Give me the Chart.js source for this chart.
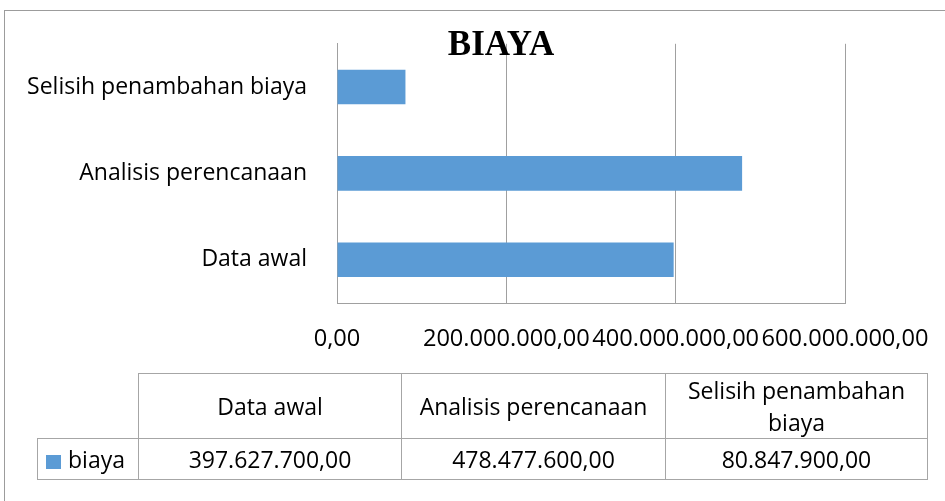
<!DOCTYPE html>
<html>
<head>
<meta charset="utf-8">
<script src="https://cdn.jsdelivr.net/npm/chart.js@4.4.0/dist/chart.umd.min.js"></script>
<style>
  body { margin: 0; background: #fff; overflow: hidden; }
  #wadah { position: relative; width: 945px; height: 501px; }
  #bingkai { position: absolute; left: 4px; top: 10px; width: 1000px; height: 600px; border: 1px solid #9c9c9c; pointer-events: none; }
  #tabel {
    position: absolute; left: 37px; top: 373px;
    border-collapse: collapse; table-layout: fixed;
    font-family: "Open Sans", sans-serif; font-size: 23px; color: #000;
  }
  #tabel td { border: 1px solid #a6a6a6; text-align: center; padding: 0 4px; line-height: 32px; }
  #tabel td.kosong { border-top: none; border-left: none; }
  #tabel tr.kepala td { height: 64px; }
  #tabel tr.isi td { height: 40px; }
  #tabel td.legenda { text-align: left; padding-left: 8px; }
  .kotak { display: inline-block; width: 15px; height: 14px; background: #5b9bd5; margin-right: 7px; vertical-align: -1px; }
</style>
</head>
<body>
<div id="wadah">
  <div id="bingkai"></div>
  <canvas id="grafica"></canvas>
  <table id="tabel"></table>
</div>
<script>
// datos del grafico
const judul = "BIAYA"
const namaSeri = "biaya"
const kategori = ["Data awal", "Analisis perencanaan", "Selisih penambahan biaya"]
const nilaiBiaya = [397627700, 478477600, 80847900]
const labelSumbuX = ["0,00", "200.000.000,00", "400.000.000,00", "600.000.000,00"]

const warnaBatang = "#5b9bd5"
const warnaGaris = "#a0a0a0"

// formato 397.627.700,00
function formatAngka(n) {
  const partes = n.toFixed(2).split(".")
  return partes[0].replace(/\B(?=(\d{3})+(?!\d))/g, ".") + "," + partes[1]
}

// titulo encima del area del grafico (se cruza con la rejilla como en el original)
const pluginJudul = {
  id: "judulBiaya",
  afterDraw(chart) {
    const ctx = chart.ctx
    ctx.save()
    ctx.font = 'bold 35px "Liberation Serif", "Times New Roman", serif'
    ctx.fillStyle = "#000"
    ctx.textAlign = "center"
    ctx.textBaseline = "alphabetic"
    ctx.fillText(judul, 501, 54.5)
    ctx.restore()
  }
}

Chart.defaults.font.family = '"Open Sans", sans-serif'
Chart.defaults.color = "#000"

const myChart = new Chart("grafica", {
  type: "bar",
  data: {
    labels: kategori,
    datasets: [
      {
        label: namaSeri,
        data: nilaiBiaya,
        backgroundColor: warnaBatang,
        borderWidth: 0,
        categoryPercentage: 0.8,
        barPercentage: 0.5
      }
    ]
  },
  options: {
    indexAxis: "y",
    responsive: true,
    maintainAspectRatio: false,
    animation: false,
    layout: { padding: { top: 40, right: 100, bottom: 140, left: 0 } },
    plugins: {
      legend: { display: false },
      title: { display: false },
      tooltip: { enabled: false }
    },
    scales: {
      x: {
        min: 0,
        max: 600000000,
        ticks: {
          stepSize: 200000000,
          autoSkip: false,
          maxRotation: 0,
          minRotation: 0,
          padding: 22,
          font: { size: 23.6 },
          callback: (value, index) => labelSumbuX[index]
        },
        grid: { color: warnaGaris, drawTicks: false },
        border: { color: warnaGaris },
        // sin relleno extra por la ultima etiqueta
        afterFit: (scale) => { scale.height = 58; scale.paddingLeft = 0; scale.paddingRight = 0 }
      },
      y: {
        reverse: true,
        ticks: { padding: 30, font: { size: 23 } },
        grid: { display: false, drawTicks: false },
        border: { color: warnaGaris },
        afterFit: (scale) => { scale.width = 337 }
      }
    }
  },
  plugins: [pluginJudul]
})

// tabla de datos debajo del grafico
const tabel = document.querySelector("#tabel")
const anchoKolom = [101, 263, 264, 262]
let colgroup = "<colgroup>" + anchoKolom.map(w => `<col style="width:${w}px">`).join("") + "</colgroup>"
let filaKepala = '<tr class="kepala"><td class="kosong"></td>' + kategori.map(k => `<td>${k}</td>`).join("") + "</tr>"
let filaIsi = `<tr class="isi"><td class="legenda"><span class="kotak"></span>${namaSeri}</td>` +
  nilaiBiaya.map(v => `<td>${formatAngka(v)}</td>`).join("") + "</tr>"
tabel.innerHTML = colgroup + filaKepala + filaIsi
</script>
</body>
</html>
